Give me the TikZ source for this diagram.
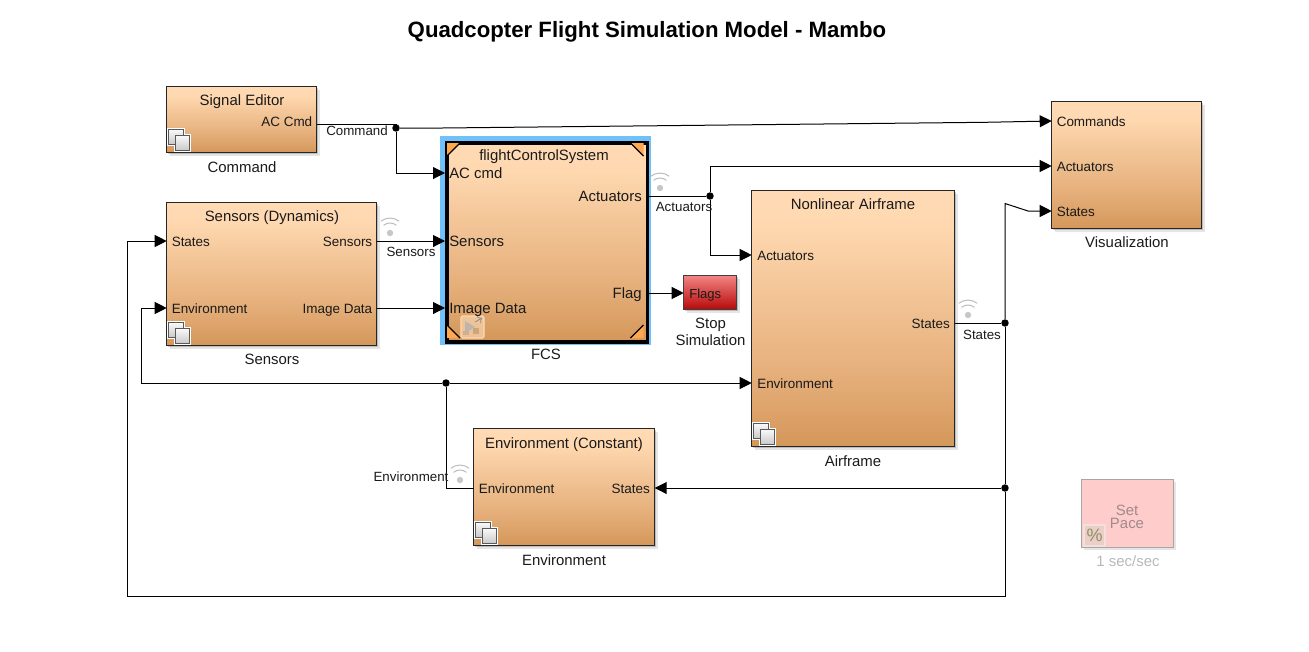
\documentclass[tikz,border=0pt]{standalone}
\usepackage{fontspec}
\setmainfont{Liberation Sans}
\usetikzlibrary{arrows.meta,shadows,calc}
\definecolor{inkc}{HTML}{1A1A1A}
\definecolor{sa}{HTML}{D4975A}
\definecolor{sb}{HTML}{E6B07C}
\definecolor{sc}{HTML}{F5C99C}
\definecolor{sd}{HTML}{FFD8B0}
\definecolor{se}{HTML}{FFDAB4}
\definecolor{fa}{HTML}{B80808}
\definecolor{fb}{HTML}{F28484}
\definecolor{ta}{HTML}{B8B8B8}
\definecolor{tb}{HTML}{C8C8C8}
\definecolor{tc}{HTML}{F8F8F8}
\definecolor{halo}{HTML}{70C0FA}
\definecolor{cornerc}{HTML}{FFA850}
\definecolor{pacetext}{HTML}{A08A8A}
\definecolor{pctfill}{HTML}{E9CFC8}
\definecolor{pctedge}{HTML}{F3E0DC}
\definecolor{pcttext}{HTML}{8F9060}
\pgfdeclareverticalshading{slblock}{100bp}{color(0bp)=(sa);color(25bp)=(sa);color(40bp)=(sb);color(58bp)=(sc);color(68bp)=(sd);color(75bp)=(se);color(100bp)=(se)}
\pgfdeclareverticalshading{slflags}{100bp}{color(0bp)=(fa);color(25bp)=(fa);color(75bp)=(fb);color(100bp)=(fb)}
\pgfdeclareverticalshading{sltile}{100bp}{color(0bp)=(ta);color(25bp)=(tb);color(75bp)=(tc);color(100bp)=(tc)}
\tikzset{
  x=0.75pt,y=-0.75pt,
  softshadow/.style={general shadow={fill=black,opacity=.10,shadow xshift=2.4pt,shadow yshift=-2.4pt},
                     general shadow={fill=black,opacity=.18,shadow xshift=1.3pt,shadow yshift=-1.3pt}},
  sized/.style 2 args={minimum width=#1*0.75pt,minimum height=#2*0.75pt,inner sep=0pt,outer sep=0pt,anchor=north west},
  blockbox/.style 2 args={sized={#1}{#2},draw=black!85,line width=.85pt,shading=slblock,softshadow},
  fcsbox/.style 2 args={sized={#1}{#2},draw=black,line width=2.8pt,shading=slblock,outer sep=1.4pt},
  portl/.style={anchor=west,inner sep=0pt,font=\fontsize{10.1pt}{12pt}\selectfont,text=inkc,text height=.87em,text depth=0pt},
  portr/.style={anchor=east,inner sep=0pt,font=\fontsize{10.1pt}{12pt}\selectfont,text=inkc,text height=.87em,text depth=0pt},
  bigl/.style={portl,font=\fontsize{11.2pt}{13pt}\selectfont},
  bigr/.style={portr,font=\fontsize{11.2pt}{13pt}\selectfont},
  head/.style={inner sep=0pt,font=\fontsize{11.2pt}{13pt}\selectfont,text=inkc,text height=.87em,text depth=0pt},
  caption/.style={inner sep=0pt,font=\fontsize{11.2pt}{13pt}\selectfont,text=inkc,align=center},
  siglabel/.style={inner sep=0pt,font=\fontsize{10pt}{12pt}\selectfont,text=inkc},
  sig/.style={line width=.75pt,draw=black},
  sigarrow/.style={sig,-{Triangle[length=9pt,width=9pt]}},
  junction/.style={circle,fill=black,inner sep=0pt,minimum size=5.6pt},
  pics/subsys/.style={code={
    \draw[draw=white,line width=2.2pt,fill=white] (2,-23) rectangle (17,-8);
    \draw[draw=white,line width=2.2pt,fill=white] (9,-17) rectangle (23,-2);
    \draw[draw=black!65,line width=.75pt,shading=sltile] (2,-23) rectangle (17,-8);
    \draw[draw=black!65,line width=.75pt,shading=sltile] (9,-17) rectangle (23,-2);
  }},
  pics/wifi/.style={code={
    \fill[black!22] (0,0) circle[radius=3.2];
    \draw[black!25,line width=.8pt] (50:7.5pt) arc[start angle=50,end angle=130,radius=7.5pt];
    \draw[black!25,line width=.8pt] (52:11.2pt) arc[start angle=52,end angle=128,radius=11.2pt];
  }},
}
\begin{document}
\begin{tikzpicture}
\useasboundingbox (0,0) rectangle (1309,651);
\node[font=\bfseries\fontsize{16.65pt}{19pt}\selectfont,inner sep=0pt] (title) at (647,32) {Quadcopter Flight Simulation Model - Mambo};

% --- blocks
\node[blockbox={150}{66}] (cmd) at (166.7,86.7) {};
\node[blockbox={210}{143}] (sens) at (166.7,202.7) {};
\node[blockbox={203}{256}] (air) at (751.7,190.7) {};
\node[blockbox={181}{117}] (env) at (473.7,428.7) {};
\node[blockbox={150}{127}] (vis) at (1051.7,101.7) {};
\node[sized={53}{34},draw=black!75,line width=.75pt,shading=slflags,softshadow] (flags) at (683.7,275.7) {};
\node[sized={92}{68},draw=black!35,line width=.75pt,fill=red!20,general shadow={fill=black,opacity=.10,shadow xshift=1.5pt,shadow yshift=-1.5pt}] (pace) at (1081.7,479.7) {};

% FCS with halo
\fill[halo] (440,136) rectangle (651,345);
\node[fcsbox={200.5}{199}] (fcs) at (445,141) {};
\foreach \cx/\cy/\sx/\sy in {447/143/1/1,643.5/143/-1/1,447/338/1/-1,643.5/338/-1/-1}{
  \fill[cornerc] (\cx,\cy) -- ++(13*\sx,0) -- ++(-13*\sx,13*\sy) -- cycle;
  \draw[black,line width=1pt] (\cx+13*\sx,\cy) -- (\cx,\cy+13*\sy);
}

% --- block icons
\pic at (cmd.south west) {subsys};
\pic at (sens.south west) {subsys};
\pic at (air.south west) {subsys};
\pic at (env.south west) {subsys};
% model reference icon
\draw[white!70!orange,line width=.8pt,fill=orange!22!white,fill opacity=.55,rounded corners=1pt] (461,316) rectangle (484,338);
\fill[black!30,opacity=.8] (465,321) -- (475,327) -- (465,333) -- cycle;
\draw[black!45,line width=.6pt,->] (475,322) -- (482,318);
\fill[orange!60!black!55,opacity=.8] (473,328) rectangle (479,334);
\fill[orange!55!black!45,opacity=.8] (463,331) rectangle (469,335);
% percent icon
\draw[pctedge,line width=.9pt,fill=pctfill] (1084,525) rectangle (1105,546);
\node[inner sep=0pt,text=pcttext,font=\fontsize{13.5pt}{15pt}\selectfont] (pct) at (1094.5,535.5) {\%};

% --- block heads
\node[head] (hcmd) at (242,99.5) {Signal Editor};
\node[head] (hsens) at (272,215.2) {Sensors (Dynamics)};
\node[head] (hfcs) at (544,154.2) {flightControlSystem};
\node[head] (hair) at (853,203.2) {Nonlinear Airframe};
\node[head] (henv) at (564,442.2) {Environment (Constant)};
\node[head,text=pacetext,align=center,text height=,font=\fontsize{11.2pt}{10pt}\selectfont] (hpace) at (1127,517) {Set\\Pace};

% --- ports
\node[portr] (pcmdout) at (312.5,121) {AC Cmd};
\node[portl] (psensin) at (171.5,241) {States};
\node[portl] (psensenv) at (171.5,308) {Environment};
\node[portr] (psensout) at (372.5,241) {Sensors};
\node[portr] (psensimg) at (372.5,308) {Image Data};
\node[bigl] (pfcscmd) at (449,173) {AC cmd};
\node[bigl] (pfcssens) at (449,241) {Sensors};
\node[bigl] (pfcsimg) at (449,308) {Image Data};
\node[bigr] (pfcsact) at (642,196) {Actuators};
\node[bigr] (pfcsflag) at (642,293) {Flag};
\node[portl] (pairact) at (757,255) {Actuators};
\node[portl] (pairenv) at (757,383) {Environment};
\node[portr] (pairst) at (950,323) {States};
\node[portl] (penvenv) at (478.5,488) {Environment};
\node[portr] (penvst) at (650,488) {States};
\node[portl] (pviscmd) at (1056.5,121) {Commands};
\node[portl] (pvisact) at (1056.5,166) {Actuators};
\node[portl] (pvisst) at (1056.5,211) {States};
\node[portl,font=\fontsize{9.8pt}{12pt}\selectfont] (pflag) at (689,293) {Flags};

% --- captions
\node[caption] (ccmd) at (242,167) {Command};
\node[caption] (csens) at (272,359) {Sensors};
\node[caption] (cfcs) at (546,354) {FCS};
\node[caption] (cair) at (853,461) {Airframe};
\node[caption] (cenv) at (564,560) {Environment};
\node[caption] (cvis) at (1127,242) {Visualization};
\node[caption] (cflags) at (710.5,332) {Stop\\Simulation};
\node[caption,text=black!28] (cpace) at (1128,561) {1 sec/sec};

% --- wifi marks
\pic at (390,233) {wifi};
\pic at (660,188) {wifi};
\pic at (968,315) {wifi};
\pic at (460,480) {wifi};

% --- junctions and bends
\node[junction] (jcmd) at (396,128) {};
\node[junction] (jact) at (710,196) {};
\node[junction] (jst) at (1005,323) {};
\node[junction] (jst2) at (1005,488) {};
\node[junction] (jenv) at (446,383) {};
\coordinate (kcmda) at (442,128);
\coordinate (kcmdb) at (985,122.3);
\coordinate (kstb) at (1005,203.5);
\coordinate (kstc) at (1028,211);
\coordinate (kloop) at (127,596);
\coordinate (kenv) at (141,383);

% --- connectors
\draw[sig] (cmd.east |- 0,124.5) -| (jcmd);
\draw[sigarrow] (jcmd) |- (fcs.west |- pfcscmd);
\draw[sigarrow] (jcmd) -- (kcmda) -- (kcmdb) -- (vis.west |- pviscmd);
\draw[sigarrow] (sens.east |- psensout) -- (fcs.west |- pfcssens);
\draw[sigarrow] (sens.east |- psensimg) -- (fcs.west |- pfcsimg);
\draw[sig] (fcs.east |- pfcsact) -- (jact);
\draw[sigarrow] (jact) |- (vis.west |- pvisact);
\draw[sigarrow] (jact) |- (air.west |- pairact);
\draw[sigarrow] (fcs.east |- pfcsflag) -- (flags.west |- pfcsflag);
\draw[sig] (air.east |- pairst) -- (jst);
\draw[sigarrow] (jst) -- (kstb) -- (kstc) -- (vis.west |- pvisst);
\draw[sig] (jst) -- (jst2);
\draw[sigarrow] (jst2) -- (env.east |- jst2);
\draw[sigarrow] (jst2) |- (kloop) |- (sens.west |- psensin);
\draw[sig] (env.west |- penvenv) -| (jenv);
\draw[sigarrow] (jenv) -- (air.west |- jenv);
\draw[sigarrow] (jenv) -- (kenv) |- (sens.west |- psensenv);

% --- connector labels
\node[siglabel] (lcmd) at (357,131) {Command};
\node[siglabel] (lsens) at (411,251.5) {Sensors};
\node[siglabel] (lact) at (684,206.5) {Actuators};
\node[siglabel] (lst) at (982,334.5) {States};
\node[siglabel] (lenv) at (411,476.5) {Environment};
\end{tikzpicture}
\end{document}
